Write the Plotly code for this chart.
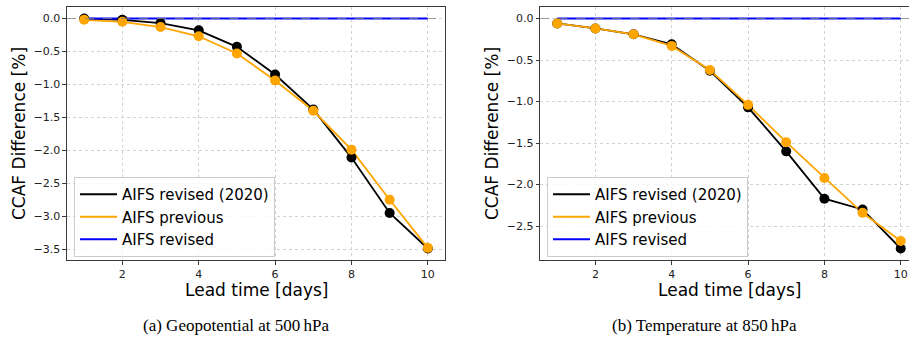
import plotly.graph_objects as go

# ---- data ----
lead_days = [1, 2, 3, 4, 5, 6, 7, 8, 9, 10]

z500_revised_2020 = [0.00, -0.02, -0.07, -0.18, -0.43, -0.85, -1.38, -2.11, -2.95, -3.49]
z500_previous = [-0.02, -0.05, -0.13, -0.27, -0.53, -0.94, -1.40, -1.99, -2.75, -3.48]
z500_revised = [0.0] * 10

t850_revised_2020 = [-0.06, -0.12, -0.19, -0.31, -0.63, -1.07, -1.60, -2.17, -2.30, -2.77]
t850_previous = [-0.06, -0.12, -0.19, -0.33, -0.62, -1.04, -1.49, -1.92, -2.34, -2.68]
t850_revised = [0.0] * 10

series_names = ["AIFS revised (2020)", "AIFS previous", "AIFS revised"]
series_colors = ["black", "#FFA500", "#0000FF"]

captions = ["(a) Geopotential at 500\u2009hPa", "(b) Temperature at 850\u2009hPa"]
x_title = "Lead time [days]"
y_title = "CCAF Difference [%]"

W, H = 909, 340
fig = go.Figure()

panels = [
    dict(xa="x", ya="y", leg="legend", data=[z500_revised_2020, z500_previous, z500_revised]),
    dict(xa="x2", ya="y2", leg="legend2", data=[t850_revised_2020, t850_previous, t850_revised]),
]

for p in panels:
    # lines (legend entries)
    for i, (name, col, ys) in enumerate(zip(series_names, series_colors, p["data"])):
        fig.add_trace(go.Scatter(
            x=lead_days, y=ys, mode="lines", name=name,
            line=dict(color=col, width=1.8),
            xaxis=p["xa"], yaxis=p["ya"], legend=p["leg"],
            legendgroup=p["leg"] + str(i), showlegend=True,
        ))
    # markers
    for col, ys in zip(series_colors[:2], p["data"][:2]):
        fig.add_trace(go.Scatter(
            x=lead_days, y=ys, mode="markers",
            marker=dict(color=col, size=10, line=dict(width=0)),
            xaxis=p["xa"], yaxis=p["ya"], showlegend=False, hoverinfo="skip",
        ))

tick_font = dict(family="DejaVu Sans", size=11, color="#222222")
axis_common = dict(
    showline=True, linecolor="#3a3a3a", linewidth=1.1,
    ticks="outside", ticklen=3.5, tickwidth=1, tickcolor="#3a3a3a",
    tickfont=tick_font, showgrid=True, gridcolor="#d2d2d2", griddash="dot",
    gridwidth=0.6, zeroline=False,
)

ydom = [1 - 260 / H, 1 - 7 / H]
fig.update_layout(
    width=W, height=H, margin=dict(l=0, r=0, t=0, b=0),
    plot_bgcolor="white", paper_bgcolor="white",
    showlegend=True,
    xaxis=dict(domain=[67 / W, 445 / W], range=[0.55, 10.45], dtick=2, tick0=0,
               anchor="y", mirror=True, **axis_common),
    yaxis=dict(domain=ydom, range=[-3.664, 0.1745], dtick=0.5, tick0=0,
               tickformat=".1f", anchor="x", mirror=True, **axis_common),
    xaxis2=dict(domain=[540.3 / W, 1.0], range=[0.557, 10.217], dtick=2, tick0=0,
                anchor="y2", mirror=True, **axis_common),
    yaxis2=dict(domain=ydom, range=[-2.9085, 0.1385], dtick=0.5, tick0=0,
                tickformat=".1f", anchor="x2", mirror=False, **axis_common),
)

leg_common = dict(
    font=dict(family="DejaVu Sans", size=15, color="black"),
    bgcolor="rgba(255,255,255,0.8)", bordercolor="#cccccc", borderwidth=1,
    xanchor="left", yanchor="top", tracegroupgap=0, itemwidth=37,
)
fig.update_layout(
    legend=dict(x=74 / W, y=1 - 177 / H, **leg_common),
    legend2=dict(x=547 / W, y=1 - 177 / H, **leg_common),
)

# dashed zero reference lines
for xa, ya in [("x", "y"), ("x2", "y2")]:
    fig.add_shape(type="line", xref=xa + " domain", yref=ya, x0=0, x1=1, y0=0, y1=0,
                  line=dict(color="rgba(128,128,128,0.75)", width=1.2, dash="dash"),
                  layer="above")

title_font = dict(family="DejaVu Sans", size=17, color="black")
cap_font = dict(family="Liberation Serif", size=17, color="black")
ann = [
    dict(text=x_title, x=256 / W, y=1 - 290 / H, font=title_font),
    dict(text=x_title, x=729 / W, y=1 - 290 / H, font=title_font),
    dict(text=y_title, x=19 / W, y=1 - 134 / H, font=title_font, textangle=-90),
    dict(text=y_title, x=492 / W, y=1 - 134 / H, font=title_font, textangle=-90),
    dict(text=captions[0], x=236 / W, y=1 - 325 / H, font=cap_font),
    dict(text=captions[1], x=704 / W, y=1 - 325 / H, font=cap_font),
]
for a in ann:
    fig.add_annotation(xref="paper", yref="paper", showarrow=False,
                       xanchor="center", yanchor="middle", **a)

fig.write_html("out.html", config={"displayModeBar": False},
               post_script="document.body.style.margin='0';document.body.style.padding='0';")
